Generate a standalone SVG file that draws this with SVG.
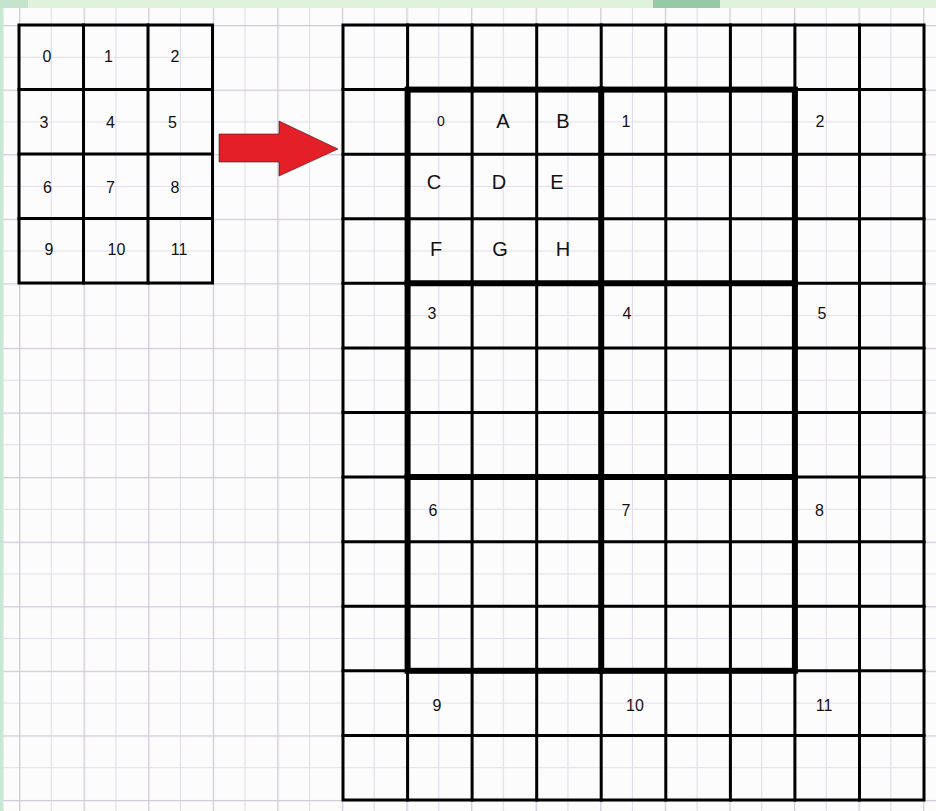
<svg xmlns="http://www.w3.org/2000/svg" width="936" height="811" viewBox="0 0 936 811">
  <defs>
    <pattern id="paper" patternUnits="userSpaceOnUse" x="19" y="25" width="64.58" height="64.58">
      <line x1="32.29" y1="0" x2="32.29" y2="64.58" stroke="#e3dde7" stroke-width="1.2"/>
      <line x1="0" y1="32.29" x2="64.58" y2="32.29" stroke="#e3dde7" stroke-width="1.2"/>
      <line x1="0.6" y1="0" x2="0.6" y2="64.58" stroke="#d2c9d7" stroke-width="1.4"/>
      <line x1="0" y1="0.6" x2="64.58" y2="0.6" stroke="#d2c9d7" stroke-width="1.4"/>
    </pattern>
    <style>
      .thin { stroke: #000; stroke-width: 3; fill: none; stroke-linecap: square; }
      .thick { stroke: #000; stroke-width: 6; fill: none; stroke-linecap: square; }
      .dig { font-family: "Liberation Sans", Arial, sans-serif; font-size: 16px; fill: #111; text-anchor: middle; dominant-baseline: central; }
      .let { font-family: "Liberation Sans", Arial, sans-serif; font-size: 20px; fill: #111; text-anchor: middle; dominant-baseline: central; }
    </style>
  </defs>

  <!-- paper background -->
  <g id="background">
    <rect x="0" y="0" width="936" height="811" fill="#fcfcfd"/>
    <rect x="0" y="8" width="936" height="803" fill="url(#paper)"/>
    <rect x="0" y="0" width="936" height="8" fill="#e0f1dc"/>
    <rect x="0" y="0" width="28" height="8" fill="#c4e3cc"/>
    <rect x="653" y="0" width="67" height="8" fill="#97c9a6"/>
    <rect x="0" y="8" width="3.5" height="803" fill="#c8e8d3"/>
  </g>

  <!-- small source grid 3x4 -->
  <g id="small-grid">
    <rect class="thin" x="19" y="25" width="193.5" height="258"/>
    <path class="thin" d="M83.5 25V283 M148 25V283 M19 89.6H212.5 M19 154H212.5 M19 218.5H212.5"/>
    <text class="dig" x="47" y="56">0</text>
    <text class="dig" x="108.5" y="56">1</text>
    <text class="dig" x="175" y="56">2</text>
    <text class="dig" x="44" y="122">3</text>
    <text class="dig" x="110.5" y="122">4</text>
    <text class="dig" x="172.5" y="122">5</text>
    <text class="dig" x="47.5" y="187">6</text>
    <text class="dig" x="110.5" y="187">7</text>
    <text class="dig" x="175" y="187">8</text>
    <text class="dig" x="49" y="249.5">9</text>
    <text class="dig" x="116.5" y="249.5">10</text>
    <text class="dig" x="179" y="249.5">11</text>
  </g>

  <!-- arrow -->
  <g id="arrow">
    <polygon points="219,134 279,134 279,121 338,149 279,176 279,162 219,162" fill="#e41f27" stroke="#3a1a1a" stroke-width="0.6"/>
  </g>

  <!-- big target grid 9x12 -->
  <g id="big-grid">
    <rect class="thin" x="343" y="25" width="581" height="775"/>
    <path class="thin" d="M407.6 25V800 M472.1 25V800 M536.7 25V800 M601.2 25V800 M665.8 25V800 M730.4 25V800 M794.9 25V800 M859.5 25V800"/>
    <path class="thin" d="M343 89.6H924 M343 154.2H924 M343 218.7H924 M343 283.3H924 M343 347.9H924 M343 412.5H924 M343 477.1H924 M343 541.7H924 M343 606.2H924 M343 670.8H924 M343 735.4H924"/>
  </g>

  <!-- thick 3x3 blocks -->
  <g id="blocks">
    <rect class="thick" x="407.6" y="89.6" width="387.3" height="581.2"/>
    <path class="thick" d="M601.2 89.6V670.8 M407.6 283.3H794.9 M407.6 477.1H794.9"/>
  </g>

  <g id="labels">
    <text class="dig" x="441" y="121" style="font-size:14px">0</text>
    <text class="let" x="503" y="121">A</text>
    <text class="let" x="563" y="121">B</text>
    <text class="dig" x="626" y="121">1</text>
    <text class="dig" x="820" y="121">2</text>
    <text class="let" x="434" y="182">C</text>
    <text class="let" x="499" y="182">D</text>
    <text class="let" x="557" y="182">E</text>
    <text class="let" x="436" y="249">F</text>
    <text class="let" x="500" y="249">G</text>
    <text class="let" x="563" y="249">H</text>
    <text class="dig" x="432" y="313">3</text>
    <text class="dig" x="627" y="313">4</text>
    <text class="dig" x="822" y="313">5</text>
    <text class="dig" x="433" y="510">6</text>
    <text class="dig" x="626" y="510">7</text>
    <text class="dig" x="819.5" y="510">8</text>
    <text class="dig" x="437" y="705">9</text>
    <text class="dig" x="635" y="705">10</text>
    <text class="dig" x="824" y="705">11</text>
  </g>
</svg>
